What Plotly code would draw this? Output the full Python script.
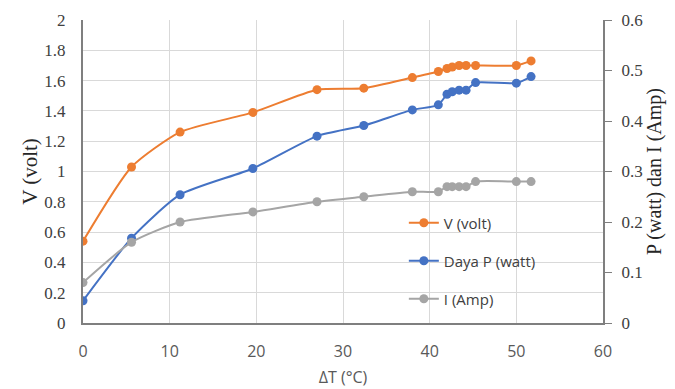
import plotly.graph_objects as go
from plotly.subplots import make_subplots

delta_t = [0, 5.6, 11.2, 19.6, 27.0, 32.4, 38.0, 41.0, 42.0, 42.6, 43.4, 44.2, 45.3, 50.0, 51.7]
v_volt = [0.54, 1.03, 1.26, 1.39, 1.54, 1.55, 1.62, 1.66, 1.68, 1.69, 1.70, 1.70, 1.70, 1.70, 1.73]
p_watt = [0.044, 0.168, 0.254, 0.306, 0.370, 0.391, 0.422, 0.432, 0.453, 0.458, 0.461, 0.461, 0.476, 0.475, 0.488]
i_amp = [0.08, 0.16, 0.20, 0.22, 0.24, 0.25, 0.26, 0.26, 0.27, 0.27, 0.27, 0.27, 0.28, 0.28, 0.28]

names = ["V (volt)", "Daya P (watt)", "I (Amp)"]
colors = ["#ED7D31", "#4472C4", "#A5A5A5"]

SERIF = "Liberation Serif, Times New Roman, serif"
SANS = "Open Sans, Noto Sans, sans-serif"

fig = make_subplots(specs=[[{"secondary_y": True}]])

series = [(v_volt, False, "legend"), (p_watt, True, "legend2"), (i_amp, True, "legend3")]
for (vals, sec, leg), name, col in zip(series, names, colors):
    fig.add_trace(
        go.Scatter(
            x=delta_t, y=vals, name=name, mode="lines+markers",
            line=dict(color=col, width=2, shape="spline", smoothing=0.6),
            marker=dict(color=col, size=9),
            legend=leg, showlegend=True,
        ),
        secondary_y=sec,
    )

leg_common = dict(font=dict(family=SANS, size=15, color="#404040"),
                  bgcolor="rgba(0,0,0,0)", xanchor="left", yanchor="middle", x=0.617)
fig.update_layout(
    width=667, height=381,
    margin=dict(l=75, r=72, t=12, b=66),
    paper_bgcolor="white", plot_bgcolor="white",
    showlegend=True,
    legend=dict(**leg_common, y=(323 - 223) / 303),
    legend2=dict(**leg_common, y=(323 - 261) / 303),
    legend3=dict(**leg_common, y=(323 - 299) / 303),
)

fig.update_xaxes(
    range=[0, 60], dtick=10, domain=[0, 1], showgrid=True, gridcolor="#D9D9D9", gridwidth=1,
    showline=True, linecolor="#7F7F7F", linewidth=2, zeroline=False,
    ticks="outside", ticklen=13, tickcolor="rgba(0,0,0,0)",
    tickfont=dict(family=SANS, size=16, color="#595959"),
    title=dict(text="ΔT (°C)", font=dict(family=SANS, size=16, color="#595959"), standoff=11),
    automargin=False,
)
fig.update_yaxes(
    range=[0, 2], dtick=0.2, showgrid=True, gridcolor="#D9D9D9", gridwidth=1,
    showline=True, linecolor="#7F7F7F", linewidth=2, zeroline=False,
    ticks="outside", ticklen=12, tickcolor="rgba(0,0,0,0)",
    tickfont=dict(family=SERIF, size=17, color="#404040"),
    title=dict(text="V (volt)", font=dict(family=SERIF, size=21, color="#262626"), standoff=1),
    automargin=False,
    secondary_y=False,
)
fig.update_yaxes(
    range=[0, 0.6], dtick=0.1, showgrid=False,
    showline=True, linecolor="#7F7F7F", linewidth=2, zeroline=False,
    ticks="outside", ticklen=7, tickcolor="#7F7F7F", tickwidth=1, ticklabelstandoff=6,
    tickfont=dict(family=SERIF, size=17, color="#404040"),
    title=dict(text="P (watt) dan I (Amp)", font=dict(family=SERIF, size=20, color="#262626"), standoff=4),
    automargin=False,
    secondary_y=True,
)

fig.write_html("out.html")
